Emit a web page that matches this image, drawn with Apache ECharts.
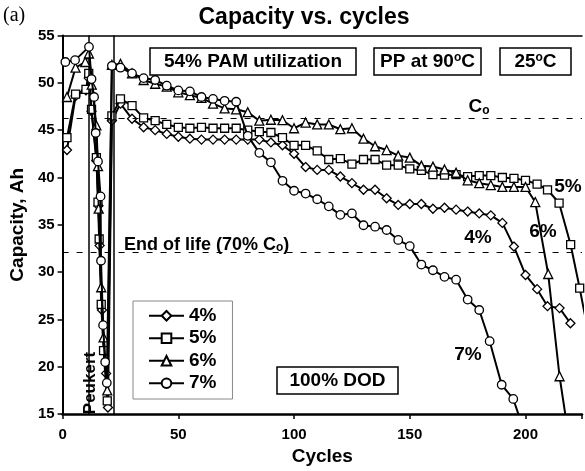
<!DOCTYPE html>
<html><head><meta charset="utf-8">
<script src="https://cdn.jsdelivr.net/npm/echarts@6/dist/echarts.min.js"></script>
<style>html,body{margin:0;padding:0;background:#fff}#c{width:585px;height:471px}</style>
</head><body><div id="c"></div>
<script>
const seriesNames = ['4%', '5%', '6%', '7%'];

const cycles4 = [1.9, 5.6, 10.1, 11.3, 12.5, 14.6, 15.5, 16, 17, 18.8, 19.6, 21.3, 25, 30, 35, 40, 45, 50, 55, 60, 65, 70, 75, 80, 85, 90, 95, 100, 105, 110, 115, 120, 125, 130, 135, 140, 145, 150, 155, 160, 165, 170, 175, 180, 185, 190, 195, 200, 205, 209.5, 214.7, 219.4];
const cap4 = [42.9, 48.6, 49.2, 50.5, 47.0, 41.8, 37.0, 32.8, 26.0, 19.3, 15.7, 46.0, 47.8, 46.2, 45.3, 45.0, 44.6, 44.3, 44.1, 44.0, 44.0, 44.0, 44.0, 44.0, 44.0, 43.7, 43.4, 42.5, 41.1, 40.8, 40.8, 40.1, 39.4, 38.7, 38.7, 37.8, 37.1, 37.2, 37.2, 36.7, 36.8, 36.6, 36.4, 36.2, 36.0, 35.2, 32.7, 29.7, 28.2, 26.4, 26.2, 24.6];

const cycles5 = [1.9, 5.6, 10.1, 11.3, 12.5, 14.6, 15.3, 15.8, 16.7, 17.7, 19.3, 21.3, 25, 30, 35, 40, 45, 50, 55, 60, 65, 70, 75, 80, 85, 90, 95, 100, 105, 110, 115, 120, 125, 130, 135, 140, 145, 150, 155, 160, 165, 170, 175, 180, 185, 190, 195, 200, 205, 209.5, 214.5, 219.5, 223.4, 228];
const cap5 = [44.2, 48.8, 49.3, 51.0, 47.2, 42.1, 37.4, 33.5, 26.6, 21.7, 16.4, 46.5, 48.3, 47.6, 46.3, 46.0, 45.6, 45.3, 45.2, 45.3, 45.2, 45.2, 45.2, 45.0, 44.85, 44.75, 44.2, 43.4, 43.4, 42.8, 41.9, 42.0, 41.4, 41.9, 41.9, 41.3, 41.3, 40.9, 40.75, 40.3, 40.25, 40.3, 40.1, 40.2, 40.2, 40.0, 39.9, 39.7, 39.3, 38.7, 37.3, 32.9, 28.3, 22.5];

const cycles6 = [1.9, 5.6, 9.8, 11.4, 12.6, 14.6, 15.3, 15.6, 16.7, 17.7, 19.3, 21.3, 25, 30, 35, 40, 45, 50, 55, 60, 65, 70, 75, 80, 85, 90, 95, 100, 105, 110, 115, 120, 125, 130, 135, 140, 145, 150, 155, 160, 165, 170, 175, 180, 185, 190, 195, 200, 204.2, 209.8, 214.7, 219];
const cap6 = [48.5, 51.6, 52.2, 53.1, 49.8, 45.5, 41.2, 36.7, 28.4, 23.1, 17.5, 51.9, 52.0, 51.0, 50.3, 49.9, 49.6, 49.0, 48.7, 48.4, 47.8, 47.3, 47.2, 46.9, 46.0, 46.1, 46.05, 45.2, 45.8, 45.6, 45.6, 45.1, 45.2, 44.1, 43.3, 42.9, 42.3, 42.1, 41.25, 41.15, 40.85, 40.5, 39.7, 39.4, 39.2, 39.0, 39.0, 39.0, 37.4, 29.8, 19.0, 12.0];

const cycles7 = [1.2, 5.4, 11.4, 12.5, 13.6, 14.3, 15.3, 16.4, 16.6, 17.5, 18.4, 19.1, 21.3, 25, 30, 35, 40, 45, 50, 55, 60, 65, 70, 75, 80, 85, 90, 95, 100, 105, 110, 115, 120, 125, 130, 135, 140, 145, 150, 155, 160, 165, 170, 175, 180, 184.5, 189.7, 194.7, 199];
const cap7 = [52.2, 52.4, 53.8, 50.4, 48.5, 44.7, 41.7, 38.0, 31.2, 24.4, 20.5, 18.3, 51.8, 51.6, 51.0, 50.5, 50.3, 49.7, 49.2, 49.1, 48.5, 48.3, 48.1, 48.0, 44.4, 42.6, 41.6, 39.65, 38.6, 38.3, 37.7, 36.95, 36.05, 36.2, 34.95, 34.8, 34.45, 33.4, 32.75, 30.8, 30.2, 29.5, 29.2, 27.1, 26.0, 22.7, 18.1, 16.6, 13.5];

const refLevels = [46.25, 32.1];      // Co and end of life (70% Co)
const peukertBounds = [11.1, 22.0];   // Peukert test window (cycles)
const xTickValues = [0, 50, 100, 150, 200];
const yMin = 15, yMax = 55, yStep = 5;

const F = '"Liberation Sans", Arial, Helvetica, sans-serif';
const symbols = ['diamond', 'rect', 'triangle', 'circle'];
const symSizes = [9, 8, 9, 8.5];
const allCycles = [cycles4, cycles5, cycles6, cycles7];
const allCaps = [cap4, cap5, cap6, cap7];

const series = seriesNames.map((n, i) => ({
  name: n,
  type: 'line',
  data: allCycles[i].map((c, k) => [c, allCaps[i][k]]),
  symbol: symbols[i],
  symbolSize: symSizes[i],
  showAllSymbol: true,
  clip: true,
  lineStyle: { color: '#000', width: 2 },
  itemStyle: { color: '#fff', borderColor: '#000', borderWidth: 1.3 },
  emphasis: { disabled: true },
  z: 3 + i,
  animation: false
}));

series.push({
  name: 'refs',
  type: 'line',
  data: [],
  silent: true,
  animation: false,
  markLine: {
    symbol: 'none', silent: true, animation: false,
    label: { show: false },
    data: [
      { yAxis: refLevels[0], lineStyle: { color: '#000', type: [6, 8], width: 1 } },
      { yAxis: refLevels[1], lineStyle: { color: '#000', type: [6, 8], width: 1 } },
      { xAxis: peukertBounds[0], lineStyle: { color: '#000', type: 'solid', width: 1.5 } },
      { xAxis: peukertBounds[1], lineStyle: { color: '#000', type: 'solid', width: 1.5 } }
    ]
  }
});

const boldText = (t, x, y, size, extra) => ({
  type: 'text', x: x, y: y, silent: true,
  style: Object.assign({ text: t, font: 'bold ' + size + 'px ' + F, fill: '#000', align: 'center', verticalAlign: 'middle' }, extra || {})
});
const box = (x, y, w, h) => ({ type: 'rect', silent: true, shape: { x: x, y: y, width: w, height: h }, style: { fill: 'none', stroke: '#000', lineWidth: 1.5 } });
const sup = { s: { font: 'bold 12px ' + F, verticalAlign: 'top', fill: '#000' } };
const sub = { b: { font: 'bold 12px ' + F, verticalAlign: 'bottom', fill: '#000' } };

const chart = echarts.init(document.getElementById('c'), null, { renderer: 'canvas' });
chart.setOption({
  animation: false,
  backgroundColor: '#fff',
  grid: { left: 55.5, right: 0, top: 35.5, bottom: 49.5, containLabel: false },
  legend: {
    orient: 'vertical', left: 133, top: 301,
    padding: [4, 16, 5, 15],
    itemWidth: 35, itemHeight: 12, itemGap: 1,
    borderColor: '#888', borderWidth: 1,
    data: seriesNames,
    textStyle: { fontFamily: F, fontWeight: 'bold', fontSize: 19, color: '#000', lineHeight: 21.5 }
  },
  xAxis: [{
    type: 'value', min: 0, max: 224.4, interval: 50,
    name: 'Cycles', nameLocation: 'middle', nameGap: 29,
    nameTextStyle: { fontFamily: F, fontWeight: 'bold', fontSize: 19, color: '#000' },
    axisLine: { show: true, onZero: false, lineStyle: { color: '#000', width: 2.5 } },
    axisTick: { show: true, length: 5, lineStyle: { color: '#000', width: 1.5 } },
    axisLabel: {
      fontFamily: F, fontWeight: 'bold', fontSize: 15, color: '#000', margin: 13,
      formatter: v => xTickValues.indexOf(Math.round(v * 100) / 100) >= 0 ? String(v) : ''
    },
    splitLine: { show: false }
  }, {
    type: 'value', position: 'top', min: 0, max: 224.4,
    axisLine: { show: true, lineStyle: { color: '#000', width: 1.5 } },
    axisTick: { show: false }, axisLabel: { show: false }, splitLine: { show: false }
  }],
  yAxis: {
    type: 'value', min: yMin, max: yMax, interval: yStep,
    name: 'Capacity, Ah', nameLocation: 'middle', nameGap: 32,
    nameTextStyle: { fontFamily: F, fontWeight: 'bold', fontSize: 19, color: '#000' },
    axisLine: { show: true, onZero: false, lineStyle: { color: '#000', width: 2 } },
    axisTick: { show: true, length: 5, lineStyle: { color: '#000', width: 1.5 } },
    axisLabel: { fontFamily: F, fontWeight: 'bold', fontSize: 15, color: '#000', margin: 8 },
    splitLine: { show: false }
  },
  graphic: [
    { type: 'text', x: 3, y: 16, silent: true, style: { text: '(a)', font: '20px "Liberation Serif", "Times New Roman", serif', fill: '#000', align: 'left', verticalAlign: 'middle' } },
    boldText('Capacity vs. cycles', 304, 18, 23),
    box(150, 48, 206, 27),
    boldText('54% PAM utilization', 253, 61.5, 19),
    box(374, 48, 107, 27),
    boldText('PP at 90{s|o}C', 427.5, 61.5, 19, { rich: sup }),
    box(500, 48, 71, 27),
    boldText('25{s|o}C', 535.5, 61.5, 19, { rich: sup }),
    boldText('C{b|o}', 479, 107, 19, { rich: sub }),
    boldText('End of life (70% C{b|o})', 124, 245, 18, { align: 'left', rich: sub }),
    box(277, 367, 121, 27),
    boldText('100% DOD', 337.5, 380.5, 19),
    boldText('5%', 568, 187, 19),
    boldText('6%', 543, 232, 19),
    boldText('4%', 478, 238, 19),
    boldText('7%', 468, 355, 19),
    Object.assign(boldText('Peukert', 90, 383, 17), { rotation: Math.PI / 2 })
  ],
  series: series
});
</script></body></html>
